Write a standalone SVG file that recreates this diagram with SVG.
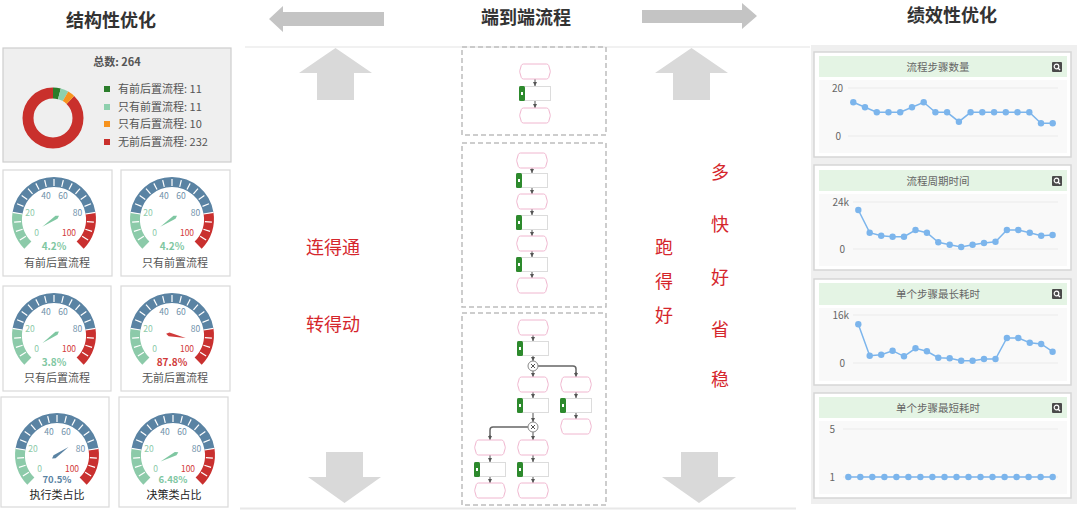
<svg xmlns="http://www.w3.org/2000/svg" width="1080" height="513" viewBox="0 0 1080 513">
<style>
text{font-family:"Noto Sans CJK SC","Noto Sans",sans-serif}
.h{font-size:18px;font-weight:bold;fill:#333;text-anchor:middle}
.red{font-size:18px;fill:#d5262c;text-anchor:middle}
.lg{font-size:11px;fill:#555}
.gl{font-size:11px;fill:#555;text-anchor:middle}
.gl2{font-size:11px;fill:#222;text-anchor:middle}
.pc{font-size:10px;font-weight:bold;text-anchor:middle}
.pc2{font-size:9.5px;font-weight:bold;text-anchor:middle}
.sc{font-size:8.5px;text-anchor:middle}
.gp{fill:#fff;stroke:#d9d9d9;stroke-width:1.2}
.box{fill:none;stroke:#bdbdbd;stroke-width:1.5;stroke-dasharray:5 3}
.ev{fill:#fff;stroke:#f0b6cf;stroke-width:1}
.tk{fill:#fff;stroke:#dcdcdc;stroke-width:1}
.tab{fill:#2d8a2d}
.cn{fill:none;stroke:#555;stroke-width:1;marker-end:url(#ah)}
.br{fill:none;stroke:#666;stroke-width:1.5}
.gw{fill:#fff;stroke:#888;stroke-width:1}
.ar{fill:#d9d9d9}
.ar2{fill:#c4c4c4}
.card{fill:#fff;stroke:#d6d6d6;stroke-width:1.5}
.hd{fill:#e4f4e4}
.pa{fill:#f9f9f9}
.ct{font-size:10.5px;fill:#666;text-anchor:middle}
.ax{font-size:10px;fill:#666;text-anchor:end}
.grid{stroke:#ebebeb;stroke-width:1}
.ln{fill:none;stroke:#7cb5ec;stroke-width:1.5;marker-start:url(#dot);marker-mid:url(#dot);marker-end:url(#dot)}
.ic{fill:#4a4a4a}
</style>
<defs>
<marker id="ah" viewBox="0 0 6 6" refX="6" refY="3" markerWidth="4" markerHeight="4" orient="auto"><path d="M0,0 L6,3 L0,6 Z" fill="#555"/></marker>
<marker id="dot" viewBox="-4 -4 8 8" refX="0" refY="0" markerWidth="8" markerHeight="8" markerUnits="userSpaceOnUse"><circle r="3.2" fill="#7cb5ec"/></marker>
<path id="ev" class="ev" d="M4,0 H27 Q28.5,0 29.2,1.5 L30.6,6.3 Q31,7.5 30.6,8.7 L29.2,13.5 Q28.5,15 27,15 H4 Q2.5,15 1.8,13.5 L0.4,8.7 Q0,7.5 0.4,6.3 L1.8,1.5 Q2.5,0 4,0 Z"/>
<g id="task"><rect class="tk" x="0.5" y="0.5" width="31" height="14"/><rect class="tab" x="0" y="0" width="6" height="15" rx="1.5"/><rect x="2" y="6" width="2" height="3" fill="#fff"/></g>
<g id="gwy"><circle class="gw" r="5"/><path d="M-2,-2 L2,2 M2,-2 L-2,2" stroke="#555" stroke-width="1"/></g>
<g id="mag"><rect class="ic" width="10" height="10" rx="1"/><circle cx="4.5" cy="4.5" r="2.3" fill="none" stroke="#fff" stroke-width="1.2"/><path d="M6.2,6.2 L8,8" stroke="#fff" stroke-width="1.4"/></g>
<g id="dial">
<path d="M-26.16,26.16 A37,37 0 0 1 -36.54,-5.79" fill="none" stroke="#8ccaa9" stroke-width="10"/>
<path d="M-36.54,-5.79 A37,37 0 0 1 36.54,-5.79" fill="none" stroke="#5a83a3" stroke-width="10"/>
<path d="M36.54,-5.79 A37,37 0 0 1 26.16,26.16" fill="none" stroke="#c9302f" stroke-width="10"/>
<g stroke="#fff" stroke-width="1.2">
<line x1="0" y1="-33" x2="0" y2="-40" transform="rotate(-121.5)"/>
<line x1="0" y1="-33" x2="0" y2="-40" transform="rotate(-108)"/>
<line x1="0" y1="-33" x2="0" y2="-40" transform="rotate(-94.5)"/>
<line x1="0" y1="-32" x2="0" y2="-42" transform="rotate(-81)"/>
<line x1="0" y1="-33" x2="0" y2="-40" transform="rotate(-67.5)"/>
<line x1="0" y1="-33" x2="0" y2="-40" transform="rotate(-54)"/>
<line x1="0" y1="-33" x2="0" y2="-40" transform="rotate(-40.5)"/>
<line x1="0" y1="-33" x2="0" y2="-40" transform="rotate(-27)"/>
<line x1="0" y1="-33" x2="0" y2="-40" transform="rotate(-13.5)"/>
<line x1="0" y1="-33" x2="0" y2="-40"/>
<line x1="0" y1="-33" x2="0" y2="-40" transform="rotate(13.5)"/>
<line x1="0" y1="-33" x2="0" y2="-40" transform="rotate(27)"/>
<line x1="0" y1="-33" x2="0" y2="-40" transform="rotate(40.5)"/>
<line x1="0" y1="-33" x2="0" y2="-40" transform="rotate(54)"/>
<line x1="0" y1="-33" x2="0" y2="-40" transform="rotate(67.5)"/>
<line x1="0" y1="-32" x2="0" y2="-42" transform="rotate(81)"/>
<line x1="0" y1="-33" x2="0" y2="-40" transform="rotate(94.5)"/>
<line x1="0" y1="-33" x2="0" y2="-40" transform="rotate(108)"/>
<line x1="0" y1="-33" x2="0" y2="-40" transform="rotate(121.5)"/>
</g>
<text class="sc" x="-17.5" y="17" fill="#8ccaa9">0</text>
<text class="sc" x="-24" y="-3" fill="#8ccaa9">20</text>
<text class="sc" x="-8" y="-20" fill="#6e8fa9">40</text>
<text class="sc" x="9" y="-20" fill="#6e8fa9">60</text>
<text class="sc" x="23.5" y="-3" fill="#6e8fa9">80</text>
<text class="sc" x="15" y="17" fill="#d23a3a">100</text>
</g>
<path id="needle" d="M0,-14 L1.8,3 L0,6 L-1.8,3 Z"/>
</defs>

<rect width="1080" height="513" fill="#fff"/>

<!-- headers -->
<g id="headers">
<text class="h" x="111" y="27">结构性优化</text>
<text class="h" x="526" y="24">端到端流程</text>
<text class="h" x="952" y="22">绩效性优化</text>
<polygon class="ar2" points="269,19 283,6 283,12 384,12 384,26 283,26 283,32"/>
<polygon class="ar2" points="757,16 742,3 742,10 642,10 642,23 742,23 742,29"/>
<line x1="245" y1="47" x2="810" y2="47" stroke="#e3e3e3" stroke-width="1"/>
<line x1="240" y1="508.5" x2="796" y2="508.5" stroke="#e8e8e8" stroke-width="2"/>
</g>

<!-- big arrows -->
<g id="up-left"><polygon class="ar" points="335.5,48 372,73 354,73 354,100 317,100 317,73 299,73"/></g>
<g id="up-right"><polygon class="ar" points="691.5,48 728,73 710,73 710,100 673,100 673,73 655,73"/></g>
<g id="down-left"><polygon class="ar" points="326,452 363,452 363,477 381,477 344.5,503 308,477 326,477"/></g>
<g id="down-right"><polygon class="ar" points="681,452 718,452 718,477 736,477 699,503 662,477 681,477"/></g>

<!-- red captions -->
<g id="captions">
<text class="red" x="333" y="254">连得通</text>
<text class="red" x="333" y="331">转得动</text>
<text class="red"><tspan x="664" y="253.5">跑</tspan><tspan x="664" y="287.5">得</tspan><tspan x="664" y="321.5">好</tspan></text>
<text class="red"><tspan x="720" y="178.5">多</tspan><tspan x="720" y="230.5">快</tspan><tspan x="720" y="283.5">好</tspan><tspan x="720" y="335.5">省</tspan><tspan x="720" y="385.5">稳</tspan></text>
</g>

<!-- donut panel -->
<g id="donut-panel">
<rect x="3" y="48" width="228" height="114" fill="#efefef" stroke="#cdcdcd" stroke-width="1.2"/>
<text x="117" y="66" font-size="11" font-weight="bold" fill="#555" text-anchor="middle">总数: 264</text>
<g transform="rotate(-90 53 118)" fill="none" stroke-width="11">
<circle cx="53" cy="118" r="25" stroke="#c9302c" stroke-dasharray="138.04 19.04" stroke-dashoffset="-19.04"/>
<circle cx="53" cy="118" r="25" stroke="#2b7d2b" stroke-dasharray="6.545 150.535"/>
<circle cx="53" cy="118" r="25" stroke="#8ed0ae" stroke-dasharray="6.545 150.535" stroke-dashoffset="-6.545"/>
<circle cx="53" cy="118" r="25" stroke="#f7931e" stroke-dasharray="5.95 151.13" stroke-dashoffset="-13.09"/>
</g>
<rect x="104" y="86" width="6" height="6" fill="#2b7d2b"/>
<rect x="104" y="104" width="6" height="6" fill="#8ed0ae"/>
<rect x="104" y="121" width="6" height="6" fill="#f7931e"/>
<rect x="104" y="139" width="6" height="6" fill="#c9302c"/>
<text class="lg" x="118" y="93">有前后置流程: 11</text>
<text class="lg" x="118" y="111">只有前置流程: 11</text>
<text class="lg" x="118" y="128">只有后置流程: 10</text>
<text class="lg" x="118" y="146">无前后置流程: 232</text>
</g>

<!-- gauges -->
<g id="gauge-1">
<rect class="gp" x="3" y="170" width="109" height="106"/>
<use href="#dial" transform="translate(54,219)"/>
<use href="#needle" fill="#7fc7a2" transform="translate(54,219) rotate(-123.7)"/>
<text class="pc" x="54" y="250" fill="#7fc7a2">4.2%</text>
<text class="gl" x="57" y="267">有前后置流程</text>
</g>
<g id="gauge-2">
<rect class="gp" x="121" y="170" width="109" height="106"/>
<use href="#dial" transform="translate(172,219)"/>
<use href="#needle" fill="#7fc7a2" transform="translate(172,219) rotate(-123.7)"/>
<text class="pc" x="172" y="250" fill="#7fc7a2">4.2%</text>
<text class="gl" x="175" y="267">只有前置流程</text>
</g>
<g id="gauge-3">
<rect class="gp" x="3" y="286" width="108" height="105"/>
<use href="#dial" transform="translate(54,335)"/>
<use href="#needle" fill="#7fc7a2" transform="translate(54,335) rotate(-124.7)"/>
<text class="pc" x="54" y="366" fill="#7fc7a2">3.8%</text>
<text class="gl" x="57" y="382">只有后置流程</text>
</g>
<g id="gauge-4">
<rect class="gp" x="121" y="286" width="109" height="105"/>
<use href="#dial" transform="translate(172,335)"/>
<use href="#needle" fill="#d03a3a" transform="translate(172,335) rotate(102.1)"/>
<text class="pc" x="172" y="366" fill="#d03a3a">87.8%</text>
<text class="gl" x="175" y="382">无前后置流程</text>
</g>
<g id="gauge-5">
<rect class="gp" x="1" y="397" width="108" height="110"/>
<use href="#dial" transform="translate(57,455)"/>
<use href="#needle" fill="#5a83a3" transform="translate(57,455) rotate(55.4)"/>
<text class="pc2" x="57" y="483" fill="#5a83a3">70.5%</text>
<text class="gl2" x="57" y="499">执行类占比</text>
</g>
<g id="gauge-6">
<rect class="gp" x="119" y="397" width="109" height="110"/>
<use href="#dial" transform="translate(173,455)"/>
<use href="#needle" fill="#7fc7a2" transform="translate(173,455) rotate(-117.5)"/>
<text class="pc2" x="173" y="483" fill="#7fc7a2">6.48%</text>
<text class="gl2" x="174" y="499">决策类占比</text>
</g>

<!-- flow boxes -->
<g id="flow-box-1"><rect class="box" x="462" y="47" width="144" height="88"/></g>
<g id="flow-box-2"><rect class="box" x="462" y="143" width="144" height="164"/></g>
<g id="flow-box-3"><rect class="box" x="462" y="313" width="144" height="192"/></g>

<!-- connectors -->
<g id="connectors">
<line class="cn" x1="535" y1="79" x2="535" y2="86"/>
<line class="cn" x1="535" y1="101" x2="535" y2="108"/>
<line class="cn" x1="532" y1="168" x2="532" y2="173"/>
<line class="cn" x1="532" y1="188" x2="532" y2="194"/>
<line class="cn" x1="532" y1="209" x2="532" y2="215"/>
<line class="cn" x1="532" y1="230" x2="532" y2="236"/>
<line class="cn" x1="532" y1="251" x2="532" y2="257"/>
<line class="cn" x1="532" y1="272" x2="532" y2="278"/>
<line class="cn" x1="533" y1="335" x2="533" y2="341"/>
<line class="cn" x1="533" y1="356" x2="533" y2="361"/>
<line class="cn" x1="533" y1="371" x2="533" y2="377"/>
<line class="cn" x1="533" y1="392" x2="533" y2="398"/>
<line class="cn" x1="533" y1="413" x2="533" y2="422"/>
<line class="cn" x1="533" y1="432" x2="533" y2="440"/>
<line class="cn" x1="533" y1="455" x2="533" y2="462"/>
<line class="cn" x1="533" y1="477" x2="533" y2="483"/>
<path class="br" d="M538,366 H573 Q576,366 576,369 V373"/>
<line class="cn" x1="576" y1="372" x2="576" y2="377"/>
<line class="cn" x1="576" y1="392" x2="576" y2="398"/>
<line class="cn" x1="576" y1="413" x2="576" y2="419"/>
<path class="br" d="M528,427 H493 Q490,427 490,430 V436"/>
<line class="cn" x1="490" y1="435" x2="490" y2="440"/>
<line class="cn" x1="490" y1="455" x2="490" y2="462"/>
<line class="cn" x1="490" y1="477" x2="490" y2="483"/>
</g>

<!-- flow nodes -->
<g id="b1-e1"><use href="#ev" x="519.5" y="64"/></g>
<g id="b1-t1"><use href="#task" x="519" y="86"/></g>
<g id="b1-e2"><use href="#ev" x="519.5" y="108"/></g>

<g id="b2-e1"><use href="#ev" x="516.5" y="153"/></g>
<g id="b2-t1"><use href="#task" x="516" y="173"/></g>
<g id="b2-e2"><use href="#ev" x="516.5" y="194"/></g>
<g id="b2-t2"><use href="#task" x="516" y="215"/></g>
<g id="b2-e3"><use href="#ev" x="516.5" y="236"/></g>
<g id="b2-t3"><use href="#task" x="516" y="257"/></g>
<g id="b2-e4"><use href="#ev" x="516.5" y="278"/></g>

<g id="b3-e1"><use href="#ev" x="517.5" y="320"/></g>
<g id="b3-t1"><use href="#task" x="517" y="341"/></g>
<g id="b3-g1"><use href="#gwy" x="533" y="366"/></g>
<g id="b3-e2"><use href="#ev" x="517.5" y="377"/></g>
<g id="b3-t2"><use href="#task" x="517" y="398"/></g>
<g id="b3-g2"><use href="#gwy" x="533" y="427"/></g>
<g id="b3-e3"><use href="#ev" x="517.5" y="440"/></g>
<g id="b3-t3"><use href="#task" x="517" y="462"/></g>
<g id="b3-e4"><use href="#ev" x="517.5" y="483"/></g>
<g id="b3-r-e1"><use href="#ev" x="560.5" y="377"/></g>
<g id="b3-r-t1"><use href="#task" x="560" y="398"/></g>
<g id="b3-r-e2"><use href="#ev" x="560.5" y="419"/></g>
<g id="b3-l-e1"><use href="#ev" x="474.5" y="440"/></g>
<g id="b3-l-t1"><use href="#task" x="474" y="462"/></g>
<g id="b3-l-e2"><use href="#ev" x="474.5" y="483"/></g>

<!-- right panel -->
<g id="perf-panel"><rect x="811" y="45" width="266" height="459" fill="#efefef"/></g>

<g id="chart-1">
<rect class="card" x="814" y="52" width="257" height="105"/>
<rect class="hd" x="819" y="56" width="248" height="21"/>
<rect class="pa" x="819" y="80" width="248" height="73"/>
<text class="ct" x="938" y="71">流程步骤数量</text>
<use href="#mag" x="1052" y="62"/>
<line class="grid" x1="848" y1="88" x2="1058" y2="88"/>
<line class="grid" x1="848" y1="136" x2="1058" y2="136"/>
<text class="ax" x="843" y="91.5">20</text>
<text class="ax" x="841" y="139.5">0</text>
<polyline class="ln" points="853.3,102.3 865,107.3 876.8,112.3 888.5,112.3 900.2,112.3 912,107.3 923.7,102.3 935.4,112.3 947.1,112.3 958.9,121.7 970.6,112.3 982.3,112.3 994.1,112.3 1005.8,112.3 1017.5,112.3 1029.3,112.3 1041,123.3 1052.7,123.3"/>
</g>

<g id="chart-2">
<rect class="card" x="814" y="165" width="257" height="105"/>
<rect class="hd" x="819" y="170" width="248" height="21"/>
<rect class="pa" x="819" y="194" width="248" height="72"/>
<text class="ct" x="938" y="185">流程周期时间</text>
<use href="#mag" x="1052" y="176"/>
<line class="grid" x1="853" y1="202" x2="1058" y2="202"/>
<line class="grid" x1="853" y1="249" x2="1058" y2="249"/>
<text class="ax" x="849" y="205.5">24k</text>
<text class="ax" x="845" y="252.5">0</text>
<polyline class="ln" points="858.3,210 869.7,232.7 881.2,235.7 892.6,236.7 904,236.7 915.5,230 926.9,232.7 938.3,242.3 949.7,244.7 961.2,247 972.6,244.7 984,243 995.5,241.7 1006.9,230 1018.3,230 1029.8,232.7 1041.2,235.7 1052.6,235"/>
</g>

<g id="chart-3">
<rect class="card" x="814" y="279" width="257" height="106"/>
<rect class="hd" x="819" y="283" width="248" height="22"/>
<rect class="pa" x="819" y="308" width="248" height="73"/>
<text class="ct" x="938" y="298">单个步骤最长耗时</text>
<use href="#mag" x="1052" y="289"/>
<line class="grid" x1="853" y1="315" x2="1058" y2="315"/>
<line class="grid" x1="853" y1="363" x2="1058" y2="363"/>
<text class="ax" x="849" y="318.5">16k</text>
<text class="ax" x="845" y="366.5">0</text>
<polyline class="ln" points="858.3,324.3 869.7,355.7 881.2,354.7 892.6,350.7 904,356.3 915.5,348.3 926.9,351.3 938.3,357.7 949.7,358.3 961.2,360.7 972.6,360.7 984,359 995.5,359 1006.9,338 1018.3,338 1029.8,342.7 1041.2,344 1052.6,351.7"/>
</g>

<g id="chart-4">
<rect class="card" x="814" y="393" width="257" height="105"/>
<rect class="hd" x="819" y="397" width="248" height="21"/>
<rect class="pa" x="819" y="421" width="248" height="73"/>
<text class="ct" x="938" y="412">单个步骤最短耗时</text>
<use href="#mag" x="1052" y="403"/>
<line class="grid" x1="843" y1="429" x2="1058" y2="429"/>
<line class="grid" x1="843" y1="477" x2="1058" y2="477"/>
<text class="ax" x="835" y="432.5">5</text>
<text class="ax" x="835" y="480.5">1</text>
<polyline class="ln" points="848.3,477 860.3,477 872.3,477 884.4,477 896.4,477 908.4,477 920.4,477 932.4,477 944.5,477 956.5,477 968.5,477 980.5,477 992.5,477 1004.6,477 1016.6,477 1028.6,477 1040.6,477 1052.7,477"/>
</g>
</svg>
